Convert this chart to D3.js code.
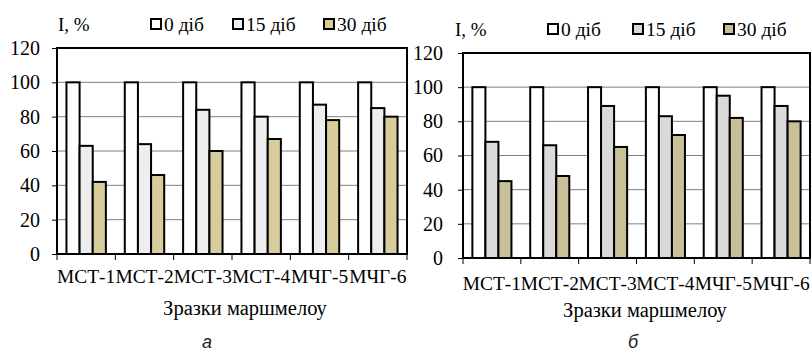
<!DOCTYPE html>
<html>
<head>
<meta charset="utf-8">
<script src="https://cdn.jsdelivr.net/npm/d3@7"></script>
<style>
  html, body { margin: 0; padding: 0; background: #fff; }
  svg { display: block; }
  svg text.letter { font-family: "Liberation Sans", Arial, sans-serif; font-style: italic; fill: #222; }
</style>
</head>
<body>
<svg id="chart" width="811" height="352"></svg>
<script>
// Samples and storage periods
const categories = ["МСТ-1", "МСТ-2", "МСТ-3", "МСТ-4", "МЧГ-5", "МЧГ-6"];
const seriesNames = ["0 діб", "15 діб", "30 діб"];
const yTicks = [0, 20, 40, 60, 80, 100, 120];

// Panel а
const panelA_day0  = [100, 100, 100, 100, 100, 100];
const panelA_day15 = [63, 64, 84, 80, 87, 85];
const panelA_day30 = [42, 46, 60, 67, 78, 80];

// Panel б
const panelB_day0  = [100, 100, 100, 100, 100, 100];
const panelB_day15 = [68, 66, 89, 83, 95, 89];
const panelB_day30 = [45, 48, 65, 72, 82, 80];

// Pick the first installed serif face (canvas width test against fallbacks)
function pickFont(candidates) {
  const ctx = document.createElement("canvas").getContext("2d");
  const probe = "МСТ-1 Зразки маршмелоу 0123456789 Iil";
  const w = f => { ctx.font = "40px " + f; return ctx.measureText(probe).width; };
  const mono = w("monospace"), sans = w("sans-serif");
  for (const c of candidates) {
    const a = w(`"${c}", monospace`), b = w(`"${c}", sans-serif`);
    if (a !== mono || b !== sans) return `"${c}"`;
  }
  return "serif";
}
const serif = pickFont(["Liberation Serif", "Tinos", "Times New Roman", "Times",
  "Nimbus Roman", "FreeSerif", "DejaVu Serif", "Noto Serif", "Georgia"]) + ", serif";
const svg = d3.select("#chart");

const panels = [
  {
    letter: "а",
    values: [panelA_day0, panelA_day15, panelA_day30],
    colors: ["#ffffff", "#eeeeee", "#d7cd9c"],
    plot: { x0: 57, x1: 407, y0: 254, y1: 48 },
    tickPad: 12,
    catY: 283, titleX: 245, titleY: 315,
    unitX: 58, unitY: 31,
    legendX: [150, 232, 323], legendY: 31,
    letterX: 207
  },
  {
    letter: "б",
    values: [panelB_day0, panelB_day15, panelB_day30],
    colors: ["#ffffff", "#dadada", "#c9bf98"],
    plot: { x0: 463, x1: 810, y0: 258, y1: 53 },
    tickPad: 15,
    catY: 290, titleX: 645, titleY: 317,
    unitX: 455, unitY: 36,
    legendX: [547, 632, 723], legendY: 36,
    letterX: 633
  }
];

panels.forEach(p => {
  const g = svg.append("g");
  const { x0, x1, y0, y1 } = p.plot;

  const x = d3.scaleBand().domain(categories).range([x0, x1]);
  // three bars per group, ~70% of a bar as gap on each side
  const inner = d3.scaleBand().domain(d3.range(seriesNames.length))
    .range([0, x.bandwidth()]).paddingInner(0).paddingOuter(0.72);
  const y = d3.scaleLinear().domain([0, 120]).range([y0, y1]);

  // Gridlines
  g.append("g").selectAll("line")
    .data(yTicks.filter(t => t > 0 && t < 120))
    .join("line")
    .attr("x1", x0).attr("x2", x1)
    .attr("y1", d => y(d)).attr("y2", d => y(d))
    .attr("stroke", "#808080").attr("stroke-width", 1);

  // Bars
  p.values.forEach((vals, si) => {
    g.append("g").selectAll("rect")
      .data(vals)
      .join("rect")
      .attr("x", (d, i) => x(categories[i]) + inner(si))
      .attr("width", inner.bandwidth())
      .attr("y", d => y(d))
      .attr("height", d => y(0) - y(d))
      .attr("fill", p.colors[si])
      .attr("stroke", "#000")
      .attr("stroke-width", 2);
  });

  // Plot frame
  g.append("rect")
    .attr("x", x0).attr("y", y1)
    .attr("width", x1 - x0).attr("height", y0 - y1)
    .attr("fill", "none").attr("stroke", "#000").attr("stroke-width", 2);

  // Y axis
  const yAxis = d3.axisLeft(y).tickValues(yTicks).tickSize(5).tickPadding(p.tickPad);
  const ya = g.append("g").attr("transform", `translate(${x0},0)`).call(yAxis)
    .attr("font-family", null);
  ya.select(".domain").remove();
  ya.selectAll(".tick line").attr("stroke", "#000").attr("stroke-width", 1);
  ya.selectAll(".tick text")
    .style("font-family", serif)
    .style("font-size", "20px").attr("fill", "#000");

  // X axis: ticks at category boundaries
  const bounds = categories.map(c => x(c)).concat([x1]);
  g.append("g").selectAll("line")
    .data(bounds)
    .join("line")
    .attr("x1", d => d).attr("x2", d => d)
    .attr("y1", y0).attr("y2", y0 + 6)
    .attr("stroke", "#000").attr("stroke-width", 1);

  g.append("g").selectAll("text")
    .data(categories)
    .join("text")
    .attr("x", d => x(d) + x.bandwidth() / 2)
    .attr("y", p.catY)
    .attr("text-anchor", "middle")
    .style("font-family", serif)
    .style("font-size", "19.4px")
    .text(d => d);

  // Axis titles
  g.append("text")
    .attr("x", p.titleX)
    .attr("y", p.titleY)
    .attr("text-anchor", "middle")
    .style("font-family", serif)
    .style("font-size", "20.5px")
    .text("Зразки маршмелоу");

  g.append("text")
    .attr("x", p.unitX).attr("y", p.unitY)
    .style("font-family", serif)
    .style("font-size", "19px")
    .text("I, %");

  // Legend
  seriesNames.forEach((name, si) => {
    const lx = p.legendX[si];
    g.append("rect")
      .attr("x", lx + 1).attr("y", p.legendY - 12)
      .attr("width", 10).attr("height", 10)
      .attr("fill", p.colors[si]).attr("stroke", "#000").attr("stroke-width", 2);
    g.append("text")
      .attr("x", lx + 14).attr("y", p.legendY)
      .style("font-family", serif)
      .style("font-size", "19.5px")
      .text(name);
  });

  // Panel letter
  g.append("text")
    .attr("class", "letter")
    .attr("x", p.letterX).attr("y", 348)
    .attr("text-anchor", "middle")
    .style("font-size", "18px")
    .text(p.letter);
});
</script>
</body>
</html>
